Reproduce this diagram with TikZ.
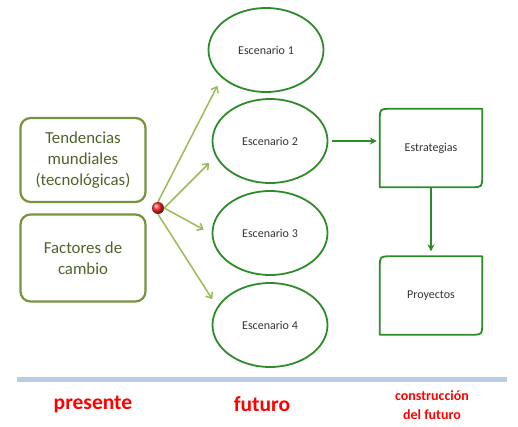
\documentclass[tikz,border=0pt]{standalone}
\usepackage{fontspec}
\setmainfont{Carlito}
\usetikzlibrary{shapes.geometric,arrows.meta,calc}
\definecolor{oliva}{HTML}{77933C}
\definecolor{olivatexto}{HTML}{4F6228}
\definecolor{verdeclaro}{HTML}{9BBB59}
\definecolor{verdeosc}{HTML}{2E8B2A}
\definecolor{azulbarra}{HTML}{B8CCE4}
\definecolor{rojoetq}{HTML}{FF0000}

\begin{document}
\begin{tikzpicture}[x=1pt, y=-1pt,
    caja/.style={draw=oliva, line width=2.2pt, rounded corners=10pt, minimum width=125pt,
        align=center, text=olivatexto, font=\fontsize{16.8}{21}\selectfont},
    escenario/.style={ellipse, draw=verdeosc, line width=1.8pt, minimum width=115pt,
        minimum height=84pt, text=black!80, font=\fontsize{12}{14}\selectfont},
    bloque/.style={minimum width=102pt, minimum height=78pt, text=black!80,
        font=\fontsize{12}{14}\selectfont},
    borde/.style={verdeosc, line width=1.8pt, line join=round},
    ramal/.style={draw=verdeclaro, line width=1.5pt, -{Straight Barb[length=5pt,width=8pt]}, shorten >=9pt},
    flecha/.style={draw=verdeosc, line width=1.5pt, -{Stealth[length=7pt,width=7pt]}},
    etiqueta/.style={text=rojoetq, font=\bfseries\fontsize{21.5}{24}\selectfont}]

    \useasboundingbox (0,0) rectangle (518,426);

    % Cajas del presente
    \node[caja, minimum height=84pt] (tend) at (83,160) {Tendencias\\mundiales\\(tecnológicas)};
    \node[caja, minimum height=87pt] (fact) at (83,258) {Factores de\\cambio};

    % Punto de partida
    \node[circle, minimum size=12pt, inner sep=0pt, shading=ball, ball color=red!85!white] (hub) at (158,208) {};

    % Escenarios
    \node[escenario] (esc1) at (266,50) {Escenario 1};
    \node[escenario] (esc2) at (270,141) {Escenario 2};
    \node[escenario] (esc3) at (270,233) {Escenario 3};
    \node[escenario] (esc4) at (270,325) {Escenario 4};

    % Ramales hacia los escenarios
    \draw[ramal] (hub.north) -- (esc1.212);
    \draw[ramal] (hub.east) -- (esc2.196);
    \draw[ramal] (hub.east) -- (esc3.181);
    \draw[ramal] (hub.south) -- (esc4.161);

    % Estrategias y proyectos (esquinas redondeadas en diagonal)
    \node[bloque] (estr) at (431,148) {Estrategias};
    \node[bloque] (proy) at (431,295.5) {Proyectos};
    \foreach \b in {estr,proy}{
        \draw[borde] (\b.north) -- ($(\b.north west)+(11,0)$)
            .. controls (\b.north west) .. ($(\b.north west)+(0,11)$)
            -- (\b.south west) -- ($(\b.south east)+(-11,0)$)
            .. controls (\b.south east) .. ($(\b.south east)+(0,-11)$)
            -- (\b.north east) -- cycle;
    }

    % Conexiones
    \draw[flecha, shorten <=4pt, shorten >=3pt] (esc2.east) -- (esc2.east -| estr.west);
    \draw[flecha, shorten >=5pt] (estr.south) -- (proy.north);

    % Linea de tiempo
    \draw[azulbarra, line width=5pt] (17,379) -- (507,379);

    % Etiquetas
    \node[etiqueta] (pres) at (93,404) {presente};
    \node[etiqueta] (fut) at (262,404) {futuro};
    \node[etiqueta, align=center, font=\bfseries\fontsize{14}{19}\selectfont] (cons) at (432,405) {construcción\\del futuro};
\end{tikzpicture}
\end{document}
